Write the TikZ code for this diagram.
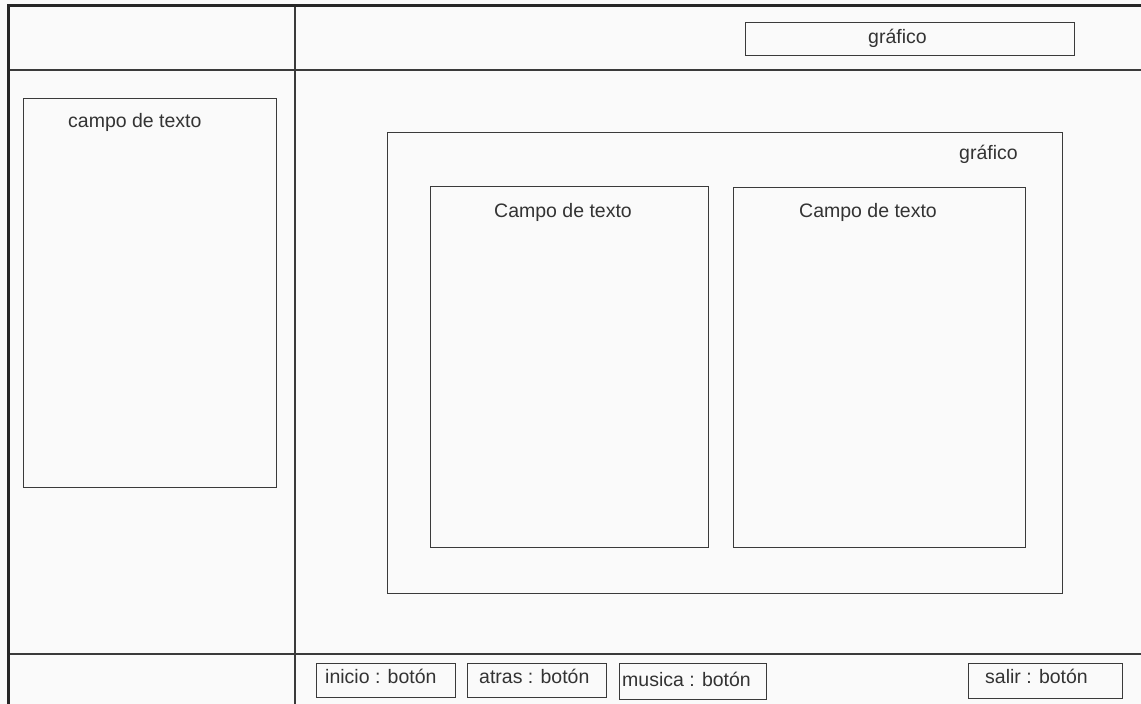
\documentclass[tikz,border=0pt]{standalone}
\usepackage{fontspec}
\setmainfont{Liberation Sans}
\definecolor{paper}{HTML}{FAFAFA}
\definecolor{ink}{HTML}{3A3A3A}
\definecolor{frame}{HTML}{262626}
\definecolor{txt}{HTML}{333333}
\tikzset{
  wbox/.style={draw=ink, line width=1.3pt, inner sep=0pt, anchor=north west},
  rule/.style={draw=ink, line width=1.4pt},
  edge/.style={draw=frame, line width=3pt},
  lbl/.style={text=txt, inner sep=0pt, anchor=base west, font=\fontsize{19.5}{22}\selectfont},
}
\newcommand{\wbox}[5]{\node[wbox, minimum width=#4pt, minimum height=#5pt] (#1) at (#2,#3) {};}
\begin{document}
\begin{tikzpicture}[x=1pt, y=-1pt]
  % page
  \fill[paper] (0,0) rectangle (1141,704);
  \useasboundingbox (0,0) rectangle (1141,704);

  % layout grid: header, footer, side column
  \coordinate (hl) at (8,70);   \coordinate (hr) at (1141,70);
  \coordinate (fl) at (8,654);  \coordinate (fr) at (1141,654);
  \coordinate (vt) at (295,5);  \coordinate (vb) at (295,704);
  \draw[rule] (hl) -- (hr);
  \draw[rule] (fl) -- (fr);
  \draw[rule] (vt) -- (vb);

  % outer window edges
  \coordinate (tl) at (8,5);
  \coordinate (tr) at (1141,5);
  \coordinate (bl) at (8,704);
  \draw[edge] (bl) -- (tl) -- (tr);

  % header graphic
  \wbox{topg}{745}{22}{329}{33}
  \node[lbl] (topgt) at (868,43) {gráfico};

  % side text field
  \wbox{side}{23}{98}{253}{389}
  \node[lbl] (sidet) at (68,127) {campo de texto};

  % main graphic with two text fields
  \wbox{main}{387}{132}{675}{461}
  \node[lbl] (maint) at (959,159) {gráfico};
  \wbox{left}{430}{186}{278}{361}
  \node[lbl] (leftt) at (494,217) {Campo de texto};
  \wbox{right}{733}{187}{292}{360}
  \node[lbl] (rightt) at (799,217) {Campo de texto};

  % footer buttons
  \wbox{b1}{316}{663}{139}{34}
  \node[lbl] (b1t) at (325,683) {inicio : botón};
  \wbox{b2}{467}{663}{139}{34}
  \node[lbl] (b2t) at (479,683) {atras : botón};
  \wbox{b3}{619}{663}{147}{36}
  \node[lbl] (b3t) at (622,686) {musica : botón};
  \wbox{b4}{968}{663}{154}{35}
  \node[lbl] (b4t) at (985,683) {salir : botón};
\end{tikzpicture}
\end{document}
